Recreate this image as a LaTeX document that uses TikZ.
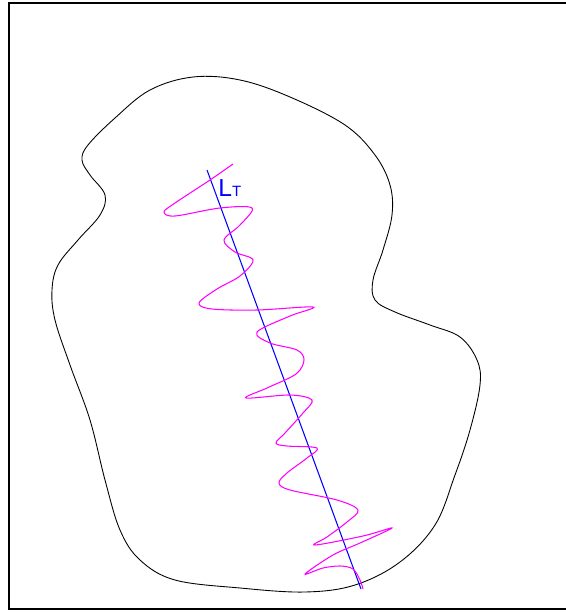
\documentclass[tikz,border=0pt]{standalone}
\usepackage{fontspec}
\setmainfont{Liberation Sans}
\definecolor{wavemag}{RGB}{255,0,255}
\definecolor{lineblue}{RGB}{0,0,255}

\begin{document}
\begin{tikzpicture}[
  x=0.02cm, y=-0.02cm,
  frame/.style={draw, line width=1.1pt},
  outline/.style={draw, line width=0.5pt},
  axisline/.style={draw, lineblue, line width=0.6pt},
  wave/.style={draw, wavemag, line width=0.6pt},
  lbl/.style={text=lineblue, inner sep=0pt, anchor=base west,
              font=\fontsize{14}{16}\selectfont}
]
\useasboundingbox (0,0) rectangle (565,612);

% === Frame (right side runs off the page) ===
\draw[frame] (9,3) rectangle (580,609);

% === Region boundary ===
\draw[outline] plot[smooth cycle, tension=0.6] coordinates {
  (193,77) (240,80) (290,97) (345,125) (375,155) (390,185) (392,215)
  (383,250) (373,280) (375,300) (395,312) (430,325) (460,337) (477,360)
  (480,385) (470,430) (455,475) (435,525) (400,562) (355,585) (305,592)
  (240,588) (175,580) (140,560) (120,530) (105,480) (90,420) (70,365)
  (55,320) (52,290) (58,265) (78,240) (100,215) (105,195) (90,175)
  (82,160) (88,145) (115,118) (150,90)};

% === Line L_T ===
\coordinate (ltop) at (207,170);
\coordinate (lbot) at (361,589);
\draw[axisline] (ltop) -- (lbot);
\node[lbl] (lt) at (218,196) {L{\fontsize{8.5}{10}\selectfont T}};

% === Wave along the line ===
\draw[wave] plot[smooth, tension=0.55] coordinates {
  (233,164) (210,180) (175,203) (164,212) (175,216) (220,208) (252,208)
  (240,225) (224,240) (235,252) (253,260) (240,276) (217,289) (199,303)
  (212,309) (257,310) (313,307) (290,316) (257,332) (270,343) (297,350)
  (304,360) (296,374) (267,388) (246,398) (290,395) (312,400) (303,413)
  (285,433) (276,443) (287,446) (317,448) (307,458) (287,473) (279,483)
  (290,490) (337,500) (358,510) (347,522) (327,537) (315,545) (363,536)
  (392,528) (360,543) (333,555) (305,574) (323,568) (340,566) (353,569)
  (360,580) (363,589)};

\end{tikzpicture}
\end{document}
